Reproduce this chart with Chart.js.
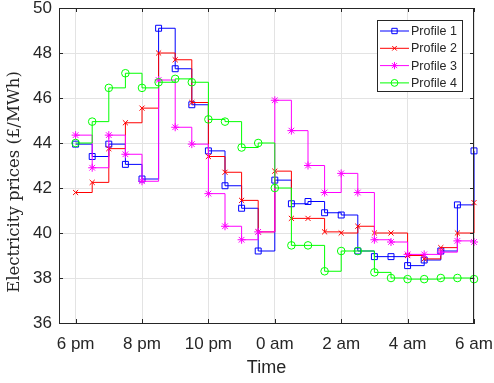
<!DOCTYPE html>
<html>
<head>
<meta charset="utf-8">
<script src="https://cdn.jsdelivr.net/npm/chart.js@4.4.1/dist/chart.umd.min.js"></script>
<style>
  html, body { margin: 0; padding: 0; background: #fff; }
  #wrap { width: 494px; height: 383px; }
</style>
</head>
<body>
<div id="wrap"><canvas id="priceChart" width="494" height="383"></canvas></div>
<script>
// hours after 6 pm, one value every half hour
const hours = [0, 0.5, 1, 1.5, 2, 2.5, 3, 3.5, 4, 4.5, 5, 5.5, 6, 6.5, 7, 7.5, 8, 8.5, 9, 9.5, 10, 10.5, 11, 11.5, 12];

const profile1 = [43.95, 43.4, 43.95, 43.05, 42.4, 49.1, 47.3, 45.7, 43.65, 42.1, 41.1, 39.2, 42.35, 41.3, 41.4, 40.9, 40.8, 39.2, 38.95, 38.95, 38.55, 38.8, 39.2, 41.25, 43.65];
const profile2 = [41.8, 42.25, 43.75, 44.9, 45.55, 48.0, 47.7, 45.8, 43.4, 42.7, 41.45, 40.05, 42.75, 40.65, 40.65, 40.05, 40.0, 40.3, 40.0, 40.0, 39.0, 38.85, 39.35, 40.0, 41.35];
const profile3 = [44.35, 42.9, 44.35, 43.5, 42.3, 46.8, 44.7, 43.95, 41.75, 40.3, 39.7, 40.05, 45.9, 44.55, 43.0, 41.8, 42.65, 41.8, 39.7, 39.6, 39.05, 39.05, 39.15, 39.65, 39.6];
const profile4 = [44.0, 44.95, 46.45, 47.1, 46.45, 46.7, 46.85, 46.7, 45.05, 44.95, 43.8, 44.0, 42.0, 39.45, 39.45, 38.3, 39.2, 39.2, 38.25, 38.0, 37.95, 37.95, 38.0, 38.0, 37.95];

const seriesNames = ["Profile 1", "Profile 2", "Profile 3", "Profile 4"];
const seriesColors = ["#0000ff", "#ff0000", "#ff00ff", "#00ff00"];
const seriesMarkers = ["rect", "crossRot", "star", "circle"];
const markerSizes = [4.2, 3.6, 4, 3.8];

const tickHours = [0, 2, 4, 6, 8, 10, 12];
const tickLabels = ["6 pm", "8 pm", "10 pm", "0 am", "2 am", "4 am", "6 am"];
const yTitle = "Electricity prices (£/MWh)";

const axisColor = "#262626";
const gridColor = "#e3e3e3";
const sansFont = "'Liberation Sans', Arial, Helvetica, sans-serif";

function makeSet(values, i) {
  return {
    label: seriesNames[i],
    data: hours.map((h, k) => ({ x: h, y: values[k] })),
    borderColor: seriesColors[i],
    backgroundColor: "rgba(0,0,0,0)",
    borderWidth: 1,
    stepped: "before",
    clip: false,
    pointStyle: seriesMarkers[i],
    pointRadius: markerSizes[i],
    pointBorderColor: seriesColors[i],
    pointBackgroundColor: "rgba(0,0,0,0)",
    pointBorderWidth: 1,
    order: 4 - i
  };
}

// box, inward ticks, y title and the legend, matlab style
const framePlugin = {
  id: "frame",
  afterDraw(chart) {
    const ctx = chart.ctx;
    const a = chart.chartArea;
    const xs = chart.scales.x, ys = chart.scales.y;
    ctx.save();
    ctx.strokeStyle = axisColor;
    ctx.lineWidth = 1;
    ctx.beginPath();
    ctx.moveTo(a.left, a.top + 0.5);
    ctx.lineTo(a.right, a.top + 0.5);
    ctx.moveTo(a.right - 0.5, a.top);
    ctx.lineTo(a.right - 0.5, a.bottom);
    const t = 4;
    tickHours.forEach(h => {
      const px = Math.round(xs.getPixelForValue(h)) + 0.5;
      ctx.moveTo(px, a.bottom); ctx.lineTo(px, a.bottom - t);
      ctx.moveTo(px, a.top); ctx.lineTo(px, a.top + t);
    });
    ys.ticks.forEach(tk => {
      const py = Math.round(ys.getPixelForValue(tk.value)) + 0.5;
      ctx.moveTo(a.left, py); ctx.lineTo(a.left + t, py);
      ctx.moveTo(a.right, py); ctx.lineTo(a.right - t, py);
    });
    ctx.stroke();

    // y title (latex look, sits a bit low like the original)
    ctx.save();
    ctx.translate(15, 182);
    ctx.rotate(-Math.PI / 2);
    ctx.font = "16.5px 'DejaVu Serif', 'Liberation Serif', serif";
    ctx.fillStyle = axisColor;
    ctx.textAlign = "center";
    ctx.textBaseline = "middle";
    ctx.fillText(yTitle, 0, 0);
    ctx.restore();

    // legend
    const bx = 377.5, by = 20.5, bw = 85, bh = 71;
    ctx.fillStyle = "#fff";
    ctx.fillRect(bx, by, bw, bh);
    ctx.strokeStyle = axisColor;
    ctx.strokeRect(bx, by, bw, bh);
    ctx.font = "12.5px " + sansFont;
    ctx.textBaseline = "middle";
    ctx.textAlign = "left";
    seriesNames.forEach((name, i) => {
      const y = 31 + i * 17.3;
      ctx.strokeStyle = seriesColors[i];
      ctx.lineWidth = 1;
      ctx.beginPath();
      ctx.moveTo(380, y);
      ctx.lineTo(409, y);
      ctx.stroke();
      ctx.fillStyle = "rgba(0,0,0,0)";
      Chart.helpers.drawPoint(ctx, {
        pointStyle: seriesMarkers[i],
        radius: markerSizes[i] * 0.9,
        rotation: 0,
        borderWidth: 1
      }, 394.5, y);
      ctx.fillStyle = axisColor;
      ctx.fillText(name, 411, y + 0.5);
    });
    ctx.restore();
  }
};

const ctx = document.getElementById("priceChart").getContext("2d");
new Chart(ctx, {
  type: "line",
  data: {
    datasets: [profile1, profile2, profile3, profile4].map(makeSet)
  },
  options: {
    responsive: false,
    animation: false,
    devicePixelRatio: 1,
    layout: { padding: { top: 8, right: 20, left: 0, bottom: 0 } },
    plugins: {
      legend: { display: false },
      tooltip: { enabled: false }
    },
    scales: {
      x: {
        type: "linear",
        min: -0.5,
        max: 12,
        afterBuildTicks: s => { s.ticks = tickHours.map(v => ({ value: v })); },
        afterFit: s => { s.height = 60; s.paddingLeft = 0; s.paddingRight = 0; },
        grid: { color: gridColor, drawTicks: false },
        border: { color: axisColor },
        ticks: {
          autoSkip: false,
          maxRotation: 0,
          padding: 11,
          color: axisColor,
          font: { family: sansFont, size: 17 },
          callback: v => tickLabels[tickHours.indexOf(v)]
        },
        title: {
          display: true,
          text: "Time",
          color: axisColor,
          font: { family: sansFont, size: 18 },
          padding: { top: 0, bottom: 4 }
        }
      },
      y: {
        min: 36,
        max: 50,
        afterFit: s => { s.width = 59; s.paddingTop = 0; s.paddingBottom = 0; },
        grid: { color: gridColor, drawTicks: false },
        border: { color: axisColor },
        ticks: {
          stepSize: 2,
          padding: 7,
          color: axisColor,
          font: { family: sansFont, size: 17 }
        }
      }
    }
  },
  plugins: [framePlugin]
});
</script>
</body>
</html>
